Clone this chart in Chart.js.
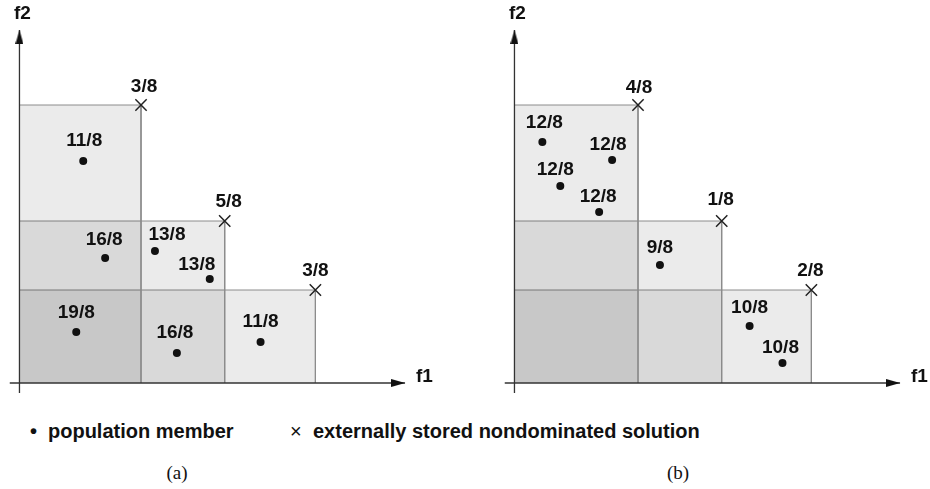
<!DOCTYPE html>
<html>
<head>
<meta charset="utf-8">
<script src="https://cdn.jsdelivr.net/npm/chart.js@4/dist/chart.umd.min.js"></script>
<style>
body { margin: 0; width: 930px; height: 489px; background: #fff; position: relative; overflow: hidden; font-family: "Liberation Sans", Arial, sans-serif; color: #111; }
canvas { position: absolute; top: 0; }
#chart-a { left: 0; }
#chart-b { left: 495px; }
.legend { position: absolute; top: 421px; font-size: 20px; line-height: 20px; font-weight: bold; white-space: nowrap; }
.sym { position: absolute; top: 421px; font-size: 20px; line-height: 20px; }
.caption { position: absolute; top: 463px; width: 60px; text-align: center; font-family: "Liberation Serif", "Times New Roman", serif; font-size: 19px; line-height: 19px; }
</style>
</head>
<body>
<canvas id="chart-a" width="435" height="405"></canvas>
<canvas id="chart-b" width="435" height="405"></canvas>

<span class="sym" style="left:30px;font-weight:bold;">•</span>
<span class="legend" style="left:48px;">population member</span>
<span class="sym" style="left:290px;">×</span>
<span class="legend" style="left:313px;">externally stored nondominated solution</span>

<div class="caption" style="left:147px;">(a)</div>
<div class="caption" style="left:648px;">(b)</div>

<script>
// ----- data (f1 / f2 in arbitrary objective units) -----
// panel (a)
const archiveF1A = [12.2, 20.6, 29.7];
const archiveF2A = [27.8, 16.2, 9.3];
const archiveLabelsA = ['3/8', '5/8', '3/8'];
const popF1A = [6.4, 8.6, 13.6, 19.1, 5.7, 15.8, 24.2];
const popF2A = [22.2, 12.5, 13.2, 10.4, 5.1, 3.0, 4.1];
const popLabelsA = ['11/8', '16/8', '13/8', '13/8', '19/8', '16/8', '11/8'];

// panel (b)
const archiveF1B = [12.4, 20.8, 29.8];
const archiveF2B = [27.8, 16.2, 9.3];
const archiveLabelsB = ['4/8', '1/8', '2/8'];
const popF1B = [2.8, 9.8, 4.6, 8.5, 14.6, 23.6, 26.9];
const popF2B = [24.1, 22.3, 19.7, 17.1, 11.8, 5.7, 2.0];
const popLabelsB = ['12/8', '12/8', '12/8', '12/8', '9/8', '10/8', '10/8'];

// axis extents
const f1Range = [-1, 38.7];
const f2Range = [-1, 35.3];

// label nudges in pixels (style only)
const popNudgeA = [[1, -20], [-1, -18], [12, -16], [-13, -14], [0, -19], [-2, -20], [0, -20]];
const archiveNudgeA = [[3, -18], [4, -19], [0, -19]];
const popNudgeB = [[2, -19], [-4, -15], [-5, -16], [-1, -15], [0, -17], [0, -18], [-2, -15]];
const archiveNudgeB = [[1, -17], [-1, -21], [-1, -19]];

const LABEL_FONT = 'bold 19px "Liberation Sans", Arial, sans-serif';

// small arrow head image used as point style
function makeArrowHead() {
    const c = document.createElement('canvas');
    c.width = 14;
    c.height = 8;
    const g = c.getContext('2d');
    g.fillStyle = '#111';
    g.beginPath();
    g.moveTo(0, 0);
    g.lineTo(14, 4);
    g.lineTo(0, 8);
    g.closePath();
    g.fill();
    return c;
}
const arrowHead = makeArrowHead();

// draws the fraction labels next to points and the axis names
const labelPlugin = {
    id: 'pointLabels',
    afterDatasetsDraw(chart) {
        const ctx = chart.ctx;
        ctx.save();
        ctx.font = LABEL_FONT;
        ctx.fillStyle = '#111';
        ctx.textAlign = 'center';
        ctx.textBaseline = 'middle';
        chart.data.datasets.forEach((ds, i) => {
            if (!ds.pointLabels) return;
            const meta = chart.getDatasetMeta(i);
            meta.data.forEach((el, j) => {
                const n = ds.labelNudge[j];
                ctx.fillText(ds.pointLabels[j], el.x + n[0], el.y + n[1]);
            });
        });
        // axis names
        const xs = chart.scales.x, ys = chart.scales.y;
        const ox = xs.getPixelForValue(0), oy = ys.getPixelForValue(0);
        ctx.fillText('f2', ox + 3, ys.getPixelForValue(f2Range[1]) - 16);
        ctx.textAlign = 'left';
        ctx.fillText('f1', xs.getPixelForValue(f1Range[1]) + 11, oy - 6);
        ctx.restore();
    }
};

function boxDataset(f1, f2) {
    return {
        type: 'line',
        data: [{x: 0, y: f2}, {x: f1, y: f2}, {x: f1, y: 0}],
        fill: 'origin',
        backgroundColor: 'rgba(0,0,0,0.08)',
        borderColor: '#8c8c8c',
        borderWidth: 1,
        pointRadius: 0,
        tension: 0,
        order: 10
    };
}

function drawPanel(canvasId, archF1, archF2, archLabels, archNudge, popF1, popF2, popLabels, popNudge) {
    const datasets = [];
    for (let i = 0; i < archF1.length; i++) {
        datasets.push(boxDataset(archF1[i], archF2[i]));
    }
    // axes
    datasets.push({
        type: 'line',
        data: [{x: f1Range[0], y: 0}, {x: f1Range[1], y: 0}],
        borderColor: '#333', borderWidth: 1.3, pointRadius: 0, fill: false, order: 5
    });
    datasets.push({
        type: 'line',
        data: [{x: 0, y: f2Range[0]}, {x: 0, y: f2Range[1]}],
        borderColor: '#333', borderWidth: 1.3, pointRadius: 0, fill: false, order: 5
    });
    // arrow heads (centred half a head behind the tips)
    datasets.push({
        type: 'scatter',
        data: [{x: f1Range[1] - 0.7, y: 0}, {x: 0, y: f2Range[1] - 0.7}],
        pointStyle: arrowHead,
        rotation: (c) => c.dataIndex === 1 ? -90 : 0,
        order: 4
    });
    // population members
    datasets.push({
        type: 'scatter',
        data: popF1.map((v, i) => ({x: v, y: popF2[i]})),
        pointStyle: 'circle',
        pointRadius: 4,
        backgroundColor: '#111',
        borderColor: '#111',
        borderWidth: 0,
        pointLabels: popLabels,
        labelNudge: popNudge,
        order: 2
    });
    // externally stored nondominated solutions
    datasets.push({
        type: 'scatter',
        data: archF1.map((v, i) => ({x: v, y: archF2[i]})),
        pointStyle: 'crossRot',
        pointRadius: 8,
        borderColor: '#222',
        borderWidth: 1.5,
        pointLabels: archLabels,
        labelNudge: archNudge,
        order: 1
    });

    new Chart(document.getElementById(canvasId), {
        type: 'scatter',
        data: { datasets: datasets },
        options: {
            responsive: false,
            animation: false,
            events: [],
            layout: { padding: { left: 8, right: 17, top: 13, bottom: 12 } },
            scales: {
                x: { type: 'linear', min: -1, max: 40, display: false },
                y: { type: 'linear', min: -1, max: 37, display: false }
            },
            plugins: {
                legend: { display: false },
                tooltip: { enabled: false }
            }
        },
        plugins: [labelPlugin]
    });
}

drawPanel('chart-a', archiveF1A, archiveF2A, archiveLabelsA, archiveNudgeA, popF1A, popF2A, popLabelsA, popNudgeA);
drawPanel('chart-b', archiveF1B, archiveF2B, archiveLabelsB, archiveNudgeB, popF1B, popF2B, popLabelsB, popNudgeB);
</script>
</body>
</html>
